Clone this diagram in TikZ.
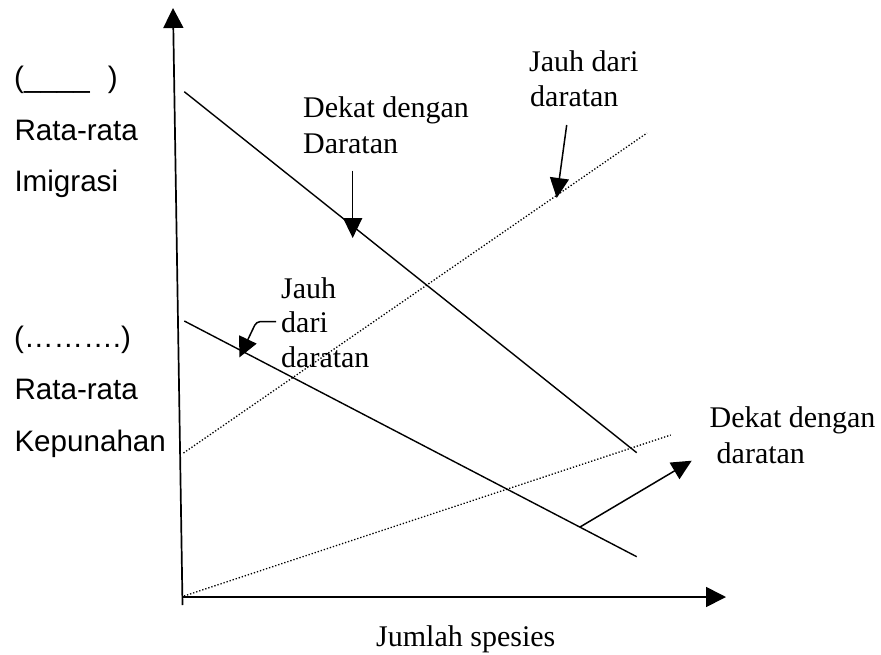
\documentclass[tikz,border=0pt]{standalone}
\usepackage{fontspec}
\setmainfont{Liberation Serif}
\newfontfamily\arialfont{Liberation Sans}
\usetikzlibrary{arrows.meta}
\begin{document}
\begin{tikzpicture}[x=1pt,y=-1pt,
  serif/.style={font=\fontsize{30}{35}\selectfont, anchor=base west, inner sep=0pt},
  sans/.style={font=\arialfont\fontsize{29.6}{35}\selectfont, anchor=base west, inner sep=0pt},
  axis/.style={line width=1.7pt, -{Triangle[length=20pt,width=20pt]}},
  curve/.style={line width=1.4pt},
  dots/.style={line width=1.3pt, dash pattern=on 1.3pt off 1.9pt},
  pointer/.style={line width=1.5pt, -{Triangle[length=20pt,width=19pt]}}]
\useasboundingbox (0,0) rectangle (881,654);

% axes
\coordinate (ybot) at (182.5,605);
\coordinate (ytop) at (173,8);
\coordinate (O) at (182.5,597);
\coordinate (xend) at (726,597);
\draw[axis] (ybot) -- (ytop);
\draw[axis] (O) -- (xend);

% lines
\coordinate (a1) at (184.3,91.7);
\coordinate (a2) at (636.7,452.7);
\coordinate (b1) at (184.3,321);
\coordinate (b2) at (636.7,556.7);
\coordinate (c1) at (183.5,453);
\coordinate (c2) at (647,133);
\coordinate (d1) at (184,596);
\coordinate (d2) at (670.7,435);
\draw[curve] (a1) -- (a2);
\draw[curve] (b1) -- (b2);
\draw[dots] (c1) -- (c2);
\draw[dots] (d1) -- (d2);

% pointers
\coordinate (p1s) at (352.7,170.7);
\coordinate (p1e) at (352.7,238);
\coordinate (p2s) at (566.7,125);
\coordinate (p2e) at (556.7,198);
\coordinate (p3s) at (276,321.5);
\coordinate (p3m) at (256.5,321.5);
\coordinate (p3e) at (239.3,357.5);
\coordinate (p4s) at (580,527);
\coordinate (p4e) at (691.7,460.7);
\draw[pointer] (p1s) -- (p1e);
\draw[pointer] (p2s) -- (p2e);
\draw[pointer, rounded corners=4pt] (p3s) -- (p3m) -- (p3e);
\draw[pointer] (p4s) -- (p4e);

% serif labels
\node[serif] (t1a) at (303,117.3) {Dekat dengan};
\node[serif] (t1b) at (303,153.3) {Daratan};
\node[serif] (t2a) at (529,71.7) {Jauh dari};
\node[serif] (t2b) at (530,106.7) {daratan};
\node[serif] (t3a) at (281,298.3) {Jauh};
\node[serif] (t3b) at (281,332.7) {dari};
\node[serif] (t3c) at (281,367.3) {daratan};
\node[serif] (t4a) at (709.5,427) {Dekat dengan};
\node[serif] (t4b) at (716.5,463) {daratan};
\node[serif] (xl) at (376,646) {Jumlah spesies};

% sans labels
\node[sans] (s1) at (14,87.5) {(\_\_\_\_\hspace{18pt})};
\node[sans] (s2) at (14.3,140) {Rata-rata};
\node[sans] (s3) at (14.3,191.7) {Imigrasi};
\node[sans] (s4) at (14,347.5) {(\char"2026\char"2026\char"2026.)};
\node[sans] (s5) at (14.3,399) {Rata-rata};
\node[sans] (s6) at (14.3,451.7) {Kepunahan};
\end{tikzpicture}
\end{document}
